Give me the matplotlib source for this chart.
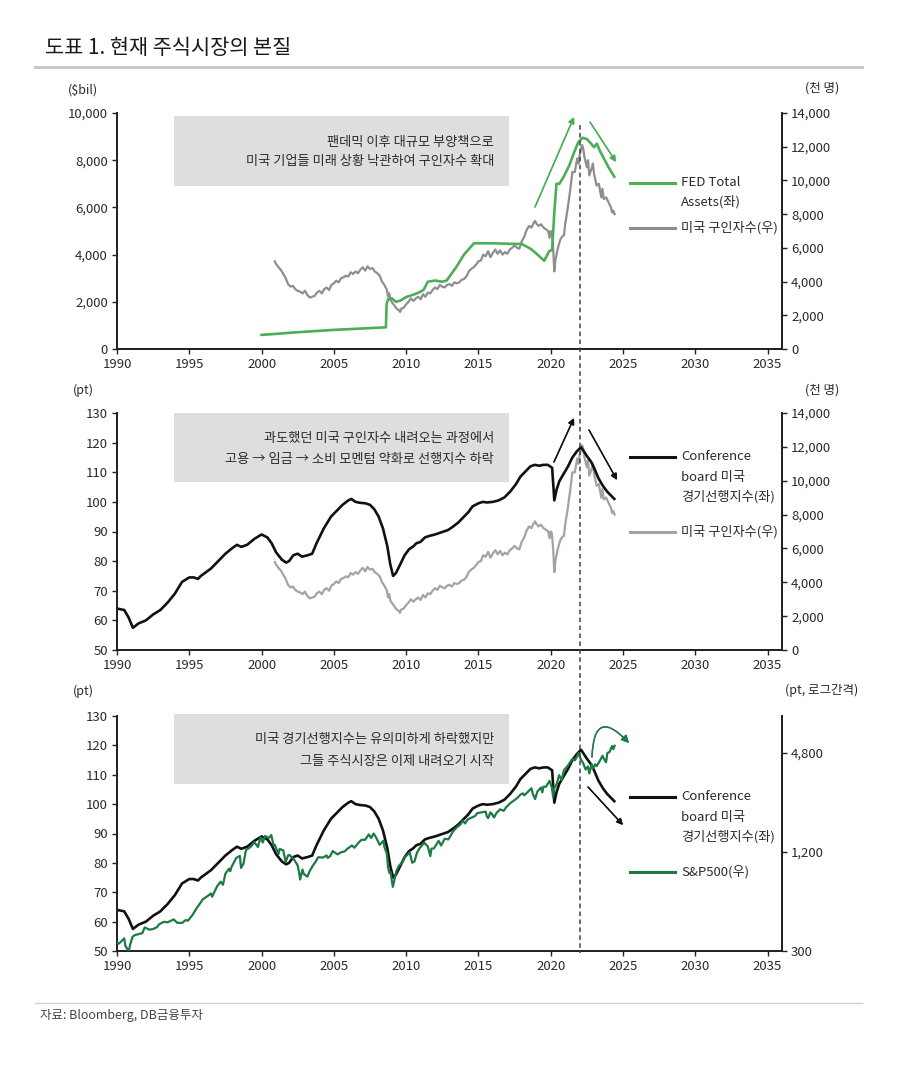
import matplotlib
matplotlib.use("Agg")
import matplotlib.pyplot as plt
from matplotlib.lines import Line2D
from matplotlib.patches import Rectangle
from matplotlib.ticker import FuncFormatter, FixedLocator, NullLocator
import numpy as np

plt.rcParams['font.family'] = ['Noto Sans CJK KR', 'DejaVu Sans']

# ---------------- data ----------------
fed_t = [2000.0, 2001.0, 2002.0, 2003.0, 2004.0, 2005.0, 2006.0, 2007.0, 2008.0, 2008.6,
         2008.65, 2008.75, 2009.0, 2009.3, 2009.6, 2010.0, 2010.5, 2010.9, 2011.2,
         2011.5, 2012.0, 2012.5, 2012.8, 2013.5, 2014.0, 2014.7, 2016.0, 2017.0,
         2018.0, 2018.6, 2019.0, 2019.55, 2019.9, 2020.1, 2020.25, 2020.4, 2020.6, 2020.9,
         2021.3, 2021.6, 2021.9, 2022.2, 2022.5, 2022.8, 2023.0, 2023.2, 2023.4, 2023.7,
         2024.0, 2024.4]
fed_v = [600, 640, 690, 730, 770, 810, 840, 870, 900, 920,
         1900, 2100, 2150, 2000, 2050, 2200, 2300, 2400, 2500,
         2850, 2900, 2850, 2900, 3500, 4000, 4480, 4480, 4460,
         4450, 4250, 4050, 3740, 4150, 4200, 5800, 7000, 7000, 7300,
         7800, 8300, 8750, 8950, 8900, 8700, 8550, 8700, 8400, 8050,
         7700, 7300]

jobs_t = [2000.92, 2001.0, 2001.17, 2001.33, 2001.5, 2001.67, 2001.83, 2002.0, 2002.17, 2002.33,
          2002.5, 2002.67, 2002.83, 2003.0, 2003.17, 2003.33, 2003.5, 2003.67, 2003.83, 2004.0,
          2004.17, 2004.33, 2004.5, 2004.67, 2004.83, 2005.0, 2005.17, 2005.33, 2005.5, 2005.67,
          2005.83, 2006.0, 2006.17, 2006.33, 2006.5, 2006.67, 2006.83, 2007.0, 2007.17, 2007.33,
          2007.5, 2007.67, 2007.83, 2008.0, 2008.17, 2008.33, 2008.5, 2008.67, 2008.75, 2008.83,
          2008.92, 2009.0, 2009.17, 2009.33, 2009.5, 2009.58, 2009.67, 2009.83, 2010.0, 2010.17,
          2010.33, 2010.5, 2010.67, 2010.83, 2011.0, 2011.17, 2011.33, 2011.5, 2011.67, 2011.83,
          2012.0, 2012.17, 2012.33, 2012.5, 2012.67, 2012.83, 2013.0, 2013.17, 2013.33, 2013.5,
          2013.67, 2013.83, 2014.0, 2014.17, 2014.33, 2014.5, 2014.67, 2014.83, 2015.0, 2015.17,
          2015.33, 2015.5, 2015.67, 2015.83, 2016.0, 2016.17, 2016.33, 2016.5, 2016.67, 2016.83,
          2017.0, 2017.17, 2017.33, 2017.5, 2017.67, 2017.83, 2018.0, 2018.17, 2018.33, 2018.5,
          2018.67, 2018.83, 2018.92, 2019.0, 2019.17, 2019.33, 2019.5, 2019.67, 2019.83, 2019.92,
          2020.0, 2020.08, 2020.17, 2020.25, 2020.33, 2020.5, 2020.67, 2020.83, 2020.92, 2021.0,
          2021.17, 2021.33, 2021.5, 2021.67, 2021.83, 2021.92, 2022.0, 2022.17, 2022.25, 2022.33,
          2022.5, 2022.58, 2022.67, 2022.83, 2022.92, 2023.0, 2023.17, 2023.33, 2023.5, 2023.58,
          2023.67, 2023.83, 2024.0, 2024.17, 2024.25, 2024.33, 2024.42]
jobs_v = [5200, 5050, 4850, 4700, 4450, 4200, 3850, 3700, 3750, 3550,
          3450, 3400, 3300, 3450, 3200, 3050, 3100, 3150, 3350, 3450,
          3300, 3550, 3650, 3500, 3800, 3900, 4050, 3950, 4200, 4250,
          4350, 4300, 4550, 4450, 4600, 4500, 4700, 4850, 4650, 4900,
          4750, 4800, 4600, 4500, 4350, 4000, 3800, 3500, 3100, 3300,
          2900, 2800, 2600, 2400, 2300, 2200, 2400, 2450, 2650, 2800,
          3000, 2850, 3000, 3100, 2950, 3250, 3100, 3350, 3300, 3500,
          3650, 3550, 3800, 3700, 3650, 3800, 3850, 3750, 3950, 3900,
          3950, 4100, 4150, 4300, 4600, 4750, 4850, 5000, 5200, 5250,
          5600, 5500, 5800, 5450, 5700, 5900, 5650, 5850, 5600, 5750,
          5650, 5900, 6000, 6150, 6000, 5950, 6400, 6650, 7050, 7300,
          7200, 7500, 7600, 7450, 7300, 7400, 7200, 7100, 7000, 6600,
          7000, 6900, 6000, 4600, 5300, 6000, 6500, 6700, 6750, 7400,
          8300, 9300, 10500, 10500, 11300, 11000, 11500, 12100, 11900, 11400,
          10800, 11200, 10300, 10700, 11000, 10400, 9700, 9800, 9000, 9500,
          8900, 9000, 8700, 8400, 8100, 8200, 8000]

lei_t = [1990.0, 1990.5, 1990.8, 1991.1, 1991.5, 1992.0, 1992.5, 1993.0, 1993.5, 1994.0,
         1994.5, 1995.0, 1995.3, 1995.6, 1995.8, 1996.5, 1997.0, 1997.5, 1998.0, 1998.3,
         1998.6, 1999.0, 1999.5, 2000.0, 2000.4, 2000.7, 2001.0, 2001.4, 2001.7, 2001.9,
         2002.2, 2002.5, 2002.8, 2003.2, 2003.5, 2003.8, 2004.3, 2004.8, 2005.2, 2005.6,
         2006.0, 2006.2, 2006.5, 2006.8, 2007.2, 2007.5, 2007.8, 2008.1, 2008.4, 2008.7,
         2008.9, 2009.1, 2009.3, 2009.6, 2009.9, 2010.2, 2010.5, 2010.7, 2011.0, 2011.3,
         2011.6, 2012.0, 2012.3, 2012.6, 2012.9, 2013.2, 2013.6, 2013.9, 2014.3, 2014.6,
         2015.0, 2015.3, 2015.6, 2016.0, 2016.4, 2016.8, 2017.2, 2017.6, 2017.9, 2018.3,
         2018.6, 2018.9, 2019.2, 2019.5, 2019.8, 2020.1, 2020.25, 2020.4, 2020.6, 2020.9,
         2021.2, 2021.5, 2021.8, 2022.1, 2022.3, 2022.5, 2022.8, 2023.0, 2023.3, 2023.6,
         2023.9, 2024.1, 2024.4]
lei_v = [64, 63.5, 61, 57.5, 59, 60, 62, 63.5, 66, 69,
         73, 74.5, 74.5, 74, 75, 77.5, 80, 82.5, 84.5, 85.5,
         84.8, 85.5, 87.5, 89, 88, 86, 83, 80.5, 79.5, 80,
         82, 82.5, 81.5, 82, 82.5, 86, 91, 95, 97, 99,
         100.5, 101, 100, 99.7, 99.5, 99, 97.5, 95, 91, 85,
         79, 75, 76, 79, 82, 84, 85, 86, 86.5, 88,
         88.5, 89, 89.5, 90, 90.5, 91.5, 93, 94.5, 96.5, 98.5,
         99.5, 100, 99.8, 100, 100.5, 101.5, 103.5, 106, 108.5, 110.5,
         112, 112.5, 112.2, 112.5, 112.5, 111.5, 100.5, 104, 107, 109.5,
         112, 115, 117, 118.5, 117, 115.5, 113.5, 111.5, 108, 105.5,
         103.5, 102.5, 101]

spx_t = [1990.0, 1990.08, 1990.25, 1990.5, 1990.58, 1990.75, 1990.83, 1990.92, 1991.08, 1991.25,
         1991.5, 1991.75, 1991.92, 1992.25, 1992.5, 1992.75, 1992.92, 1993.25, 1993.5, 1993.75,
         1993.92, 1994.17, 1994.5, 1994.75, 1994.92, 1995.25, 1995.5, 1995.75, 1995.92, 1996.25,
         1996.5, 1996.58, 1996.75, 1996.92, 1997.17, 1997.33, 1997.5, 1997.75, 1997.83, 1997.92,
         1998.25, 1998.5, 1998.58, 1998.75, 1998.92, 1999.25, 1999.5, 1999.75, 1999.92, 2000.08,
         2000.25, 2000.5, 2000.67, 2000.83, 2000.92, 2001.17, 2001.25, 2001.5, 2001.67, 2001.83,
         2001.92, 2002.25, 2002.5, 2002.58, 2002.67, 2002.83, 2002.92, 2003.17, 2003.33, 2003.5,
         2003.75, 2003.92, 2004.25, 2004.5, 2004.58, 2004.75, 2004.92, 2005.25, 2005.5, 2005.75,
         2005.92, 2006.25, 2006.42, 2006.75, 2006.92, 2007.17, 2007.42, 2007.58, 2007.75, 2007.92,
         2008.17, 2008.42, 2008.5, 2008.67, 2008.75, 2008.83, 2008.92, 2009.08, 2009.17, 2009.33,
         2009.5, 2009.75, 2009.92, 2010.25, 2010.42, 2010.58, 2010.75, 2010.92, 2011.25, 2011.5,
         2011.67, 2011.75, 2011.92, 2012.25, 2012.42, 2012.67, 2012.92, 2013.25, 2013.5, 2013.75,
         2013.92, 2014.08, 2014.25, 2014.5, 2014.75, 2014.92, 2015.25, 2015.5, 2015.58, 2015.67,
         2015.83, 2015.92, 2016.08, 2016.25, 2016.5, 2016.75, 2016.92, 2017.25, 2017.5, 2017.75,
         2017.92, 2018.08, 2018.17, 2018.5, 2018.67, 2018.75, 2018.92, 2019.08, 2019.33, 2019.42,
         2019.5, 2019.67, 2019.83, 2019.92, 2020.08, 2020.17, 2020.25, 2020.42, 2020.58, 2020.75,
         2020.92, 2021.17, 2021.33, 2021.5, 2021.67, 2021.83, 2021.92, 2022.08, 2022.25, 2022.42,
         2022.58, 2022.67, 2022.83, 2022.92, 2023.08, 2023.17, 2023.33, 2023.5, 2023.58, 2023.75,
         2023.83, 2023.92, 2024.08, 2024.17, 2024.25, 2024.33, 2024.42]
spx_v = [340, 331, 340, 358, 322, 306, 304, 330, 367, 375,
         380, 385, 417, 404, 408, 418, 436, 451, 448, 459,
         466, 445, 444, 462, 459, 500, 545, 584, 616, 645,
         670, 640, 687, 740, 790, 757, 885, 947, 914, 970,
         1101, 1133, 957, 1017, 1229, 1286, 1372, 1282, 1469, 1366,
         1498, 1454, 1517, 1315, 1320, 1160, 1249, 1224, 1040, 1139,
         1148, 1076, 990, 912, 815, 936, 880, 848, 916, 974,
         1050, 1112, 1107, 1140, 1101, 1130, 1212, 1157, 1191, 1207,
         1248, 1310, 1270, 1377, 1418, 1420, 1530, 1455, 1549, 1468,
         1322, 1400, 1280, 1166, 968, 896, 903, 735, 797, 919,
         987, 1036, 1115, 1187, 1030, 1049, 1183, 1258, 1363, 1292,
         1131, 1253, 1258, 1398, 1310, 1440, 1426, 1598, 1685, 1757,
         1848, 1783, 1884, 1931, 1972, 2059, 2086, 2104, 1972, 1920,
         2080, 2044, 1940, 2065, 2170, 2126, 2239, 2384, 2470, 2575,
         2674, 2714, 2640, 2816, 2914, 2712, 2507, 2784, 2946, 2752,
         2980, 2977, 3141, 3231, 2954, 2585, 2912, 3100, 3500, 3270,
         3756, 3973, 4181, 4395, 4308, 4567, 4766, 4374, 4132, 3785,
         3955, 3586, 4080, 3840, 4076, 3970, 4169, 4450, 4589, 4288,
         4194, 4770, 4846, 5096, 5254, 5036, 5278]

x_ticks = [1990, 1995, 2000, 2005, 2010, 2015, 2020, 2025, 2030, 2035]
left1_ticks = [0, 2000, 4000, 6000, 8000, 10000]
right_jobs_ticks = [0, 2000, 4000, 6000, 8000, 10000, 12000, 14000]
lei_ticks = [50, 60, 70, 80, 90, 100, 110, 120, 130]
spx_ticks = [300, 1200, 4800]

box_texts = [["팬데믹 이후 대규모 부양책으로", "미국 기업들 미래 상황 낙관하여 구인자수 확대"],
             ["과도했던 미국 구인자수 내려오는 과정에서", "고용 → 임금 → 소비 모멘텀 약화로 선행지수 하락"],
             ["미국 경기선행지수는 유의미하게 하락했지만", "그들 주식시장은 이제 내려오기 시작"]]

# ---------------- styling ----------------
W, H = 900, 1069
fig = plt.figure(figsize=(W / 100, H / 100), dpi=100)
fig.patch.set_facecolor('white')

def P(x, y):
    return (x / W, 1 - y / H)

C_FED = '#4cae55'
C_JOBS1 = '#8e8e8e'
C_JOBS2 = '#a3a3a3'
C_LEI = '#111111'
C_SPX = '#1c7a44'
TXT = '#2a2a2a'
FS = 9.5

left_px, right_px = 117, 782
panels = [(113, 349), (413, 650), (716, 951)]

def make_ax(top, bot):
    l, b = P(left_px, bot)
    w = (right_px - left_px) / W
    h = (bot - top) / H
    ax = fig.add_axes([l, b, w, h])
    axr = ax.twinx()
    for a in (ax, axr):
        a.spines['top'].set_visible(False)
        for s in ('left', 'right', 'bottom'):
            a.spines[s].set_linewidth(1.3)
            a.spines[s].set_color('#222222')
        a.tick_params(direction='out', length=3.5, width=1, colors='#222222',
                      labelsize=FS, labelcolor=TXT, pad=3)
        a.set_facecolor('none')
    ax.set_xlim(1990, 2036)
    ax.set_xticks(x_ticks)
    ax.set_xticklabels([str(t) for t in x_ticks])
    return ax, axr

comma = FuncFormatter(lambda v, p: f"{int(round(v)):,}")

# Panel 1
ax1, ax1r = make_ax(*panels[0])
ax1.set_ylim(0, 10000)
ax1.set_yticks(left1_ticks)
ax1.yaxis.set_major_formatter(comma)
ax1r.set_ylim(0, 14000)
ax1r.set_yticks(right_jobs_ticks)
ax1r.yaxis.set_major_formatter(comma)
ax1r.plot(jobs_t, jobs_v, color=C_JOBS1, lw=1.6, zorder=2)
ax1.plot(fed_t, fed_v, color=C_FED, lw=1.9, zorder=3)
ax1.set_zorder(ax1r.get_zorder() + 1)

# Panel 2
ax2, ax2r = make_ax(*panels[1])
ax2.set_ylim(50, 130)
ax2.set_yticks(lei_ticks)
ax2r.set_ylim(0, 14000)
ax2r.set_yticks(right_jobs_ticks)
ax2r.yaxis.set_major_formatter(comma)
ax2r.plot(jobs_t, jobs_v, color=C_JOBS2, lw=1.6)
ax2.plot(lei_t, lei_v, color=C_LEI, lw=1.9)
ax2.set_zorder(ax2r.get_zorder() + 1)

# Panel 3
ax3, ax3r = make_ax(*panels[2])
ax3.set_ylim(50, 130)
ax3.set_yticks(lei_ticks)
ax3r.set_yscale('log')
ax3r.set_ylim(300, 8000)
ax3r.yaxis.set_major_locator(FixedLocator(spx_ticks))
ax3r.yaxis.set_minor_locator(NullLocator())
ax3r.yaxis.set_major_formatter(comma)
ax3.plot(lei_t, lei_v, color=C_LEI, lw=1.9, zorder=2)
ax3r.plot(spx_t, spx_v, color=C_SPX, lw=1.6, zorder=3)

# ---------------- annotation boxes ----------------
boxes = [(116, 186, 142, 162), (413, 482, 439, 460), (714, 784, 740, 761)]
for (bt, bb, y1, y2), lines in zip(boxes, box_texts):
    x0, y0 = P(174, bb)
    fig.patches.append(Rectangle((x0, y0), (509 - 174) / W, (bb - bt) / H,
                                 transform=fig.transFigure, facecolor='#dedede',
                                 edgecolor='none', zorder=0.5))
    fig.text(*P(494, y1), lines[0], ha='right', va='center', fontsize=FS, color=TXT)
    fig.text(*P(494, y2), lines[1], ha='right', va='center', fontsize=FS, color=TXT)

# ---------------- legends ----------------
def leg_line(y, color):
    fig.add_artist(Line2D([630 / W, 675 / W], [1 - y / H] * 2, color=color, lw=2.2,
                          transform=fig.transFigure))

def leg_text(y, s):
    fig.text(*P(681, y), s, ha='left', va='center', fontsize=FS, color=TXT)

leg_line(183, C_FED); leg_text(183, "FED Total"); leg_text(202, "Assets(좌)")
leg_line(228, C_JOBS1); leg_text(228, "미국 구인자수(우)")
leg_line(457, C_LEI); leg_text(457, "Conference"); leg_text(477, "board 미국"); leg_text(497, "경기선행지수(좌)")
leg_line(532, C_JOBS2); leg_text(532, "미국 구인자수(우)")
leg_line(797, C_LEI); leg_text(797, "Conference"); leg_text(817, "board 미국"); leg_text(837, "경기선행지수(좌)")
leg_line(872, C_SPX); leg_text(872, "S&P500(우)")

# ---------------- unit labels ----------------
for (x, y, s) in [(83, 90, "($bil)"), (822, 88, "(천 명)"),
                  (83, 390, "(pt)"), (822, 390, "(천 명)"),
                  (83, 691, "(pt)"), (822, 690, "(pt, 로그간격)")]:
    fig.text(*P(x, y), s, ha='center', va='center', fontsize=FS - 0.5, color=TXT)

# ---------------- dashed vertical line at 2022 ----------------
xd = fig.transFigure.inverted().transform(ax1.transData.transform((2022, 0)))[0]
fig.add_artist(Line2D([xd, xd], [1 - 125 / H, 1 - 953 / H], transform=fig.transFigure,
                      color='#444444', lw=1.1, linestyle=(0, (3, 2.2)), zorder=5))

# ---------------- arrows ----------------
def arrow(p0, p1, color, rad=0.0, lw=1.0, ms=9):
    fig.add_artist(plt.annotate('', xy=P(*p1), xytext=P(*p0), xycoords='figure fraction',
                                textcoords='figure fraction',
                                arrowprops=dict(arrowstyle='-|>', color=color, lw=lw,
                                                mutation_scale=ms, shrinkA=0, shrinkB=0,
                                                connectionstyle=f'arc3,rad={rad}')))

arrow((535, 207), (574, 117), C_FED)
arrow((590, 122), (616, 162), C_FED)
arrow((554, 462), (574, 418), '#111111')
arrow((589, 430), (617, 480), '#111111')
arrow((588, 787), (623, 825), '#111111')
arrow((592, 757), (629, 743), C_SPX, rad=-1.2, lw=1.0, ms=11)

# ---------------- title / footer ----------------
fig.text(*P(45, 48), "도표 1. 현재 주식시장의 본질", ha='left', va='center',
         fontsize=15, fontweight='medium', color='#1a1a1a')
fig.add_artist(Line2D([35 / W, 862 / W], [1 - 67 / H] * 2, color='#c8c8c8', lw=2.2,
                      transform=fig.transFigure))
fig.add_artist(Line2D([35 / W, 862 / W], [1 - 1003 / H] * 2, color='#d0d0d0', lw=1.0,
                      transform=fig.transFigure))
fig.text(*P(40, 1016), "자료: Bloomberg, DB금융투자", ha='left', va='center',
         fontsize=9, color='#444444')

fig.savefig('out.png', dpi=100, facecolor='white')
